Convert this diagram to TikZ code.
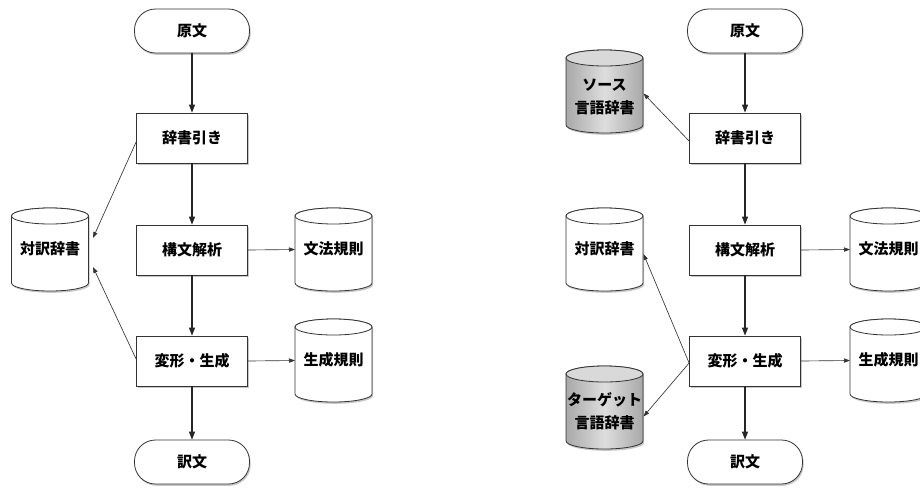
\documentclass[tikz,border=0pt]{standalone}
\usepackage{fontspec}
\setmainfont{Noto Sans CJK JP}
\usetikzlibrary{arrows.meta,shadows,calc}

\tikzset{
  softshadow/.style={drop shadow={shadow xshift=1.2pt,shadow yshift=-1.8pt,opacity=0.22,fill=black}},
  terminal/.style={draw=black!80,line width=0.8pt,fill=white,rounded corners=21pt,
    minimum width=115pt,minimum height=44pt,inner sep=0pt,softshadow},
  procbox/.style={draw=black!80,line width=0.8pt,fill=white,
    minimum width=111pt,minimum height=50pt,inner sep=0pt,softshadow},
  cylbox/.style={draw=none,minimum width=77pt,minimum height=83pt,inner sep=0pt,outer sep=0pt},
  cylline/.style={draw=black!80,line width=0.8pt,softshadow},
  cylwhite/.style={fill=white},
  cylgray/.style={left color=black!34,right color=black!34,middle color=black!13},
  cyltop/.style={draw=black!80,line width=0.8pt},
  cyltopgray/.style={fill=black!15},
  cyltopwhite/.style={fill=white},
  label/.style={font=\fontsize{15}{23}\selectfont\bfseries,align=center,inner sep=0pt},
  mainflow/.style={draw=black!85,line width=1.1pt,-{Triangle[length=8pt,width=6pt]}},
  sideflow/.style={draw=black!80,line width=0.65pt,-{Triangle[length=6pt,width=4.2pt]}},
}

% database cylinder: name, x, y, body style, top style, text, text shift
\newcommand\dbcyl[7]{%
  \node[cylbox] (#1) at (#2,#3) {};
  \path[cylline,#4] ([yshift=-8pt]#1.north west) -- ([yshift=8pt]#1.south west)
    arc[start angle=180,end angle=360,x radius=38.5pt,y radius=8pt]
    -- ([yshift=-8pt]#1.north east)
    arc[start angle=0,end angle=180,x radius=38.5pt,y radius=8pt] -- cycle;
  \path[cyltop,#5] ([yshift=-8pt]#1.north west)
    arc[start angle=180,end angle=540,x radius=38.5pt,y radius=8pt];
  \node[label] (#1-t) at ([yshift=#7]#1.center) {#6};
}

\begin{document}
\begin{tikzpicture}[x=1pt,y=-1pt]
\useasboundingbox (0,0) rectangle (920,488);
\clip (0,0) rectangle (920,488);

% ---------- left flow ----------
\node[terminal,label] (Lsrc) at (192,31) {原文};
\node[procbox,label] (Ldict) at (192,138) {辞書引き};
\node[procbox,label] (Lparse) at (192,250) {構文解析};
\node[procbox,label] (Lgen) at (192,361) {変形・生成};
\node[terminal,label] (Lout) at (192,462) {訳文};

\dbcyl{Lbi}{50}{249.5}{cylwhite}{cyltopwhite}{対訳辞書}{1pt}
\dbcyl{Lgram}{333.5}{249.5}{cylwhite}{cyltopwhite}{文法規則}{1pt}
\dbcyl{Lgenr}{333.5}{360.5}{cylwhite}{cyltopwhite}{生成規則}{1pt}

\draw[mainflow] (Lsrc) -- (Ldict);
\draw[mainflow] (Ldict) -- (Lparse);
\draw[mainflow] (Lparse) -- (Lgen);
\draw[mainflow] (Lgen) -- (Lout);
\draw[sideflow] ([yshift=-4pt]Ldict.west) -- ([xshift=4.5pt,yshift=11.5pt]Lbi.east);
\draw[sideflow] ([yshift=2pt]Lgen.west) -- ([xshift=4.5pt,yshift=-17.5pt]Lbi.east);
\draw[sideflow] (Lparse.east) -- (Lgram.west);
\draw[sideflow] (Lgen.east) -- (Lgenr.west);

% ---------- right flow ----------
\node[terminal,label] (Rsrc) at (745,31) {原文};
\node[procbox,label] (Rdict) at (745,138) {辞書引き};
\node[procbox,label] (Rparse) at (745,250) {構文解析};
\node[procbox,label] (Rgen) at (745,361) {変形・生成};
\node[terminal,label] (Rout) at (745,462) {訳文};

\dbcyl{Rsd}{604.5}{91.5}{cylgray}{cyltopgray}{ソース\\言語辞書}{-5pt}
\dbcyl{Rbi}{604.5}{249.5}{cylwhite}{cyltopwhite}{対訳辞書}{1pt}
\dbcyl{Rtd}{604.5}{407.5}{cylgray}{cyltopgray}{ターゲット\\言語辞書}{-4pt}
\dbcyl{Rgram}{888.5}{249.5}{cylwhite}{cyltopwhite}{文法規則}{1pt}
\dbcyl{Rgenr}{888.5}{360.5}{cylwhite}{cyltopwhite}{生成規則}{1pt}

\draw[mainflow] (Rsrc) -- (Rdict);
\draw[mainflow] (Rdict) -- (Rparse);
\draw[mainflow] (Rparse) -- (Rgen);
\draw[mainflow] (Rgen) -- (Rout);
\draw[sideflow] ([yshift=-3pt]Rdict.west) -- ([xshift=0.5pt,yshift=-2pt]Rsd.east);
\draw[sideflow] ([yshift=-2pt]Rgen.west) -- ([xshift=0.5pt,yshift=-4.5pt]Rbi.east);
\draw[sideflow] ([yshift=-2pt]Rgen.west) -- ([xshift=0.5pt,yshift=-9pt]Rtd.east);
\draw[sideflow] (Rparse.east) -- (Rgram.west);
\draw[sideflow] (Rgen.east) -- (Rgenr.west);
\end{tikzpicture}
\end{document}
